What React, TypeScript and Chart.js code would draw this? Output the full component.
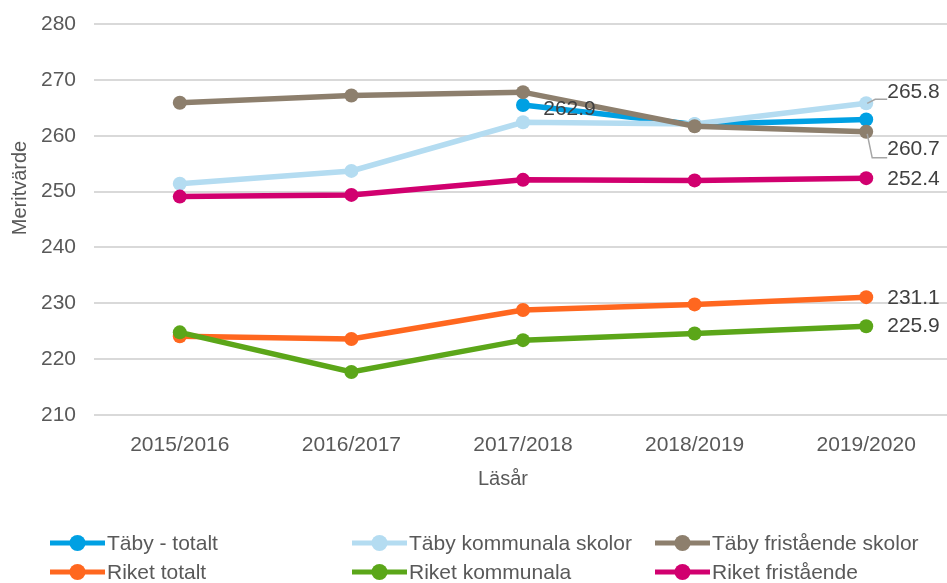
import React, { useEffect, useRef } from "react";
import { Chart, registerables } from "chart.js";

Chart.register(...registerables);

const categories = ["2015/2016", "2016/2017", "2017/2018", "2018/2019", "2019/2020"];
const seriesNames = [
  "Täby - totalt",
  "Täby kommunala skolor",
  "Täby fristående skolor",
  "Riket totalt",
  "Riket kommunala",
  "Riket fristående",
];
const tabyTotalt = [null, null, 265.5, 262.0, 262.9];
const tabyKommunala = [251.4, 253.7, 262.4, 262.1, 265.8];
const tabyFristaende = [265.9, 267.2, 267.8, 261.7, 260.7];
const riketTotalt = [224.1, 223.6, 228.8, 229.8, 231.1];
const riketKommunala = [224.8, 217.7, 223.4, 224.6, 225.9];
const riketFristaende = [249.1, 249.4, 252.1, 252.0, 252.4];
const seriesColors = ["#00A0E3", "#B4DCF1", "#8D7F6D", "#FF671F", "#5BA619", "#D1006F"];
const yTicks = [210, 220, 230, 240, 250, 260, 270, 280];
const yTitle = "Meritvärde";
const xTitle = "Läsår";

const FONT = "'Liberation Sans', Arial, sans-serif";
const TEXT = "#595959";

// label placement: dataset index, point index, offsets, optional leader line
const labelSpecs = [
  { ds: 0, idx: 4, dx: -323, dy: -10, leader: null },
  { ds: 1, idx: 4, dx: 21, dy: -11, leader: [[1, 0], [9, -4], [21, -4]] },
  { ds: 2, idx: 4, dx: 21, dy: 17, leader: [[1, 2], [6, 26], [21, 26]] },
  { ds: 5, idx: 4, dx: 21, dy: 1, leader: null },
  { ds: 3, idx: 4, dx: 21, dy: 1, leader: null },
  { ds: 4, idx: 4, dx: 21, dy: 0, leader: null },
];

const extrasPlugin = {
  id: "extras",
  afterDatasetsDraw(chart: any) {
    const ctx = chart.ctx;
    ctx.save();
    ctx.font = `21px ${FONT}`;
    ctx.fillStyle = "#404040";
    ctx.textBaseline = "middle";
    ctx.textAlign = "left";
    for (const s of labelSpecs) {
      const meta = chart.getDatasetMeta(s.ds);
      const pt = meta.data[s.idx];
      const v = chart.data.datasets[s.ds].data[s.idx];
      if (!pt || v == null) continue;
      const x = pt.x;
      const y = pt.y;
      if (s.leader) {
        ctx.strokeStyle = "#A6A6A6";
        ctx.lineWidth = 1.5;
        ctx.beginPath();
        s.leader.forEach((p: number[], i: number) => {
          if (i === 0) ctx.moveTo(x + p[0], y + p[1]);
          else ctx.lineTo(x + p[0], y + p[1]);
        });
        ctx.stroke();
      }
      ctx.fillText(Number(v).toFixed(1), x + s.dx, y + s.dy);
    }
    ctx.restore();
  },
  afterDraw(chart: any) {
    const ctx = chart.ctx;
    const area = chart.chartArea;
    ctx.save();
    // y title
    ctx.fillStyle = TEXT;
    ctx.font = `20px ${FONT}`;
    ctx.textAlign = "center";
    ctx.textBaseline = "middle";
    ctx.translate(20, 188);
    ctx.rotate(-Math.PI / 2);
    ctx.fillText(yTitle, 0, 0);
    ctx.setTransform(1, 0, 0, 1, 0, 0);
    // x title
    ctx.font = `20px ${FONT}`;
    ctx.fillText(xTitle, 503, area.bottom + 64);
    // legend
    const cols = [50, 352, 655];
    const rows = [543, 572];
    ctx.textAlign = "left";
    ctx.font = `21px ${FONT}`;
    chart.data.datasets.forEach((ds: any, i: number) => {
      const lx = cols[i % 3];
      const ly = rows[Math.floor(i / 3)];
      ctx.strokeStyle = ds.borderColor;
      ctx.lineWidth = 5;
      ctx.beginPath();
      ctx.moveTo(lx, ly);
      ctx.lineTo(lx + 55, ly);
      ctx.stroke();
      ctx.fillStyle = ds.borderColor;
      ctx.beginPath();
      ctx.arc(lx + 27.5, ly, 8, 0, Math.PI * 2);
      ctx.fill();
      ctx.fillStyle = TEXT;
      ctx.fillText(ds.label, lx + 57, ly + 1);
    });
    ctx.restore();
  },
};

export default function App() {
  const ref = useRef<HTMLCanvasElement | null>(null);
  useEffect(() => {
    document.body.style.margin = "0";
    const values = [tabyTotalt, tabyKommunala, tabyFristaende, riketTotalt, riketKommunala, riketFristaende];
    const chart = new Chart(ref.current as HTMLCanvasElement, {
      type: "line",
      data: {
        labels: categories,
        datasets: values.map((d, i) => ({
          label: seriesNames[i],
          data: d as any,
          borderColor: seriesColors[i],
          backgroundColor: seriesColors[i],
          pointBackgroundColor: seriesColors[i],
          pointBorderColor: seriesColors[i],
          borderWidth: 5.5,
          pointRadius: 7,
          pointBorderWidth: 0,
          tension: 0,
          order: values.length - i,
        })),
      },
      options: {
        animation: false,
        responsive: false,
        devicePixelRatio: 1,
        layout: { padding: { top: 24, left: 0, right: 0, bottom: 0 } },
        plugins: {
          legend: { display: false },
          tooltip: { enabled: false },
        },
        scales: {
          x: {
            type: "category",
            offset: true,
            grid: { display: false, drawTicks: false },
            border: { display: false },
            ticks: { font: { size: 21, family: FONT }, color: TEXT, padding: 18, maxRotation: 0 },
            afterFit: (s: any) => {
              s.height = 168;
              s.paddingLeft = 0;
              s.paddingRight = 0;
            },
          },
          y: {
            min: yTicks[0],
            max: yTicks[yTicks.length - 1],
            afterBuildTicks: (s: any) => {
              s.ticks = yTicks.map((v) => ({ value: v }));
            },
            grid: { color: "#D9D9D9", lineWidth: 2, drawTicks: false },
            border: { display: false },
            ticks: { font: { size: 21, family: FONT }, color: TEXT, padding: 18 },
            afterFit: (s: any) => {
              s.width = 94;
              s.paddingTop = 0;
              s.paddingBottom = 0;
            },
          },
        },
      },
      plugins: [extrasPlugin],
    });
    return () => chart.destroy();
  }, []);
  return (
    <div style={{ position: "absolute", left: 0, top: 0, width: 947, height: 583, overflow: "hidden", background: "#fff" }}>
      <canvas ref={ref} width={959} height={583} style={{ display: "block" }} />
    </div>
  );
}
